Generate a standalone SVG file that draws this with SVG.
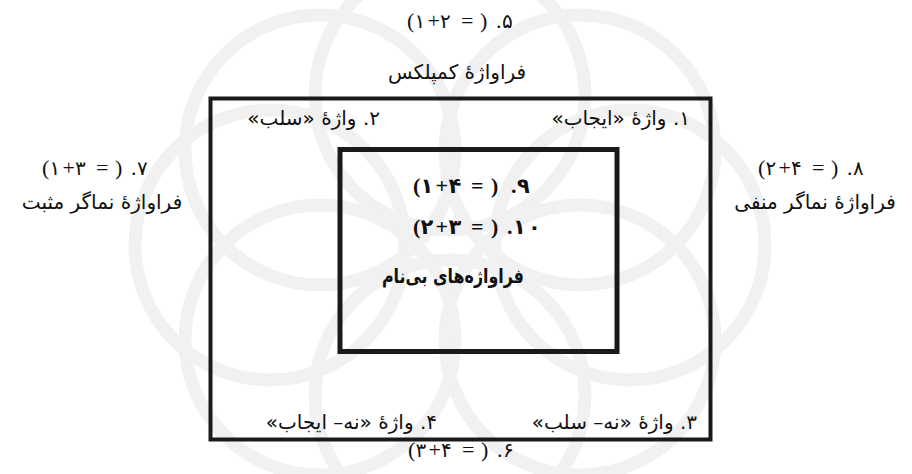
<svg xmlns="http://www.w3.org/2000/svg" width="912" height="474" viewBox="0 0 912 474">
<style>
.t{font-family:"DejaVu Sans",serif;font-size:20px;fill:#111;}
.m text{font-family:"Liberation Serif","DejaVu Sans",serif;font-size:22px;fill:#111;direction:ltr;}
.m text.d{font-family:"DejaVu Sans",serif;font-size:20px;}
.b text{font-weight:bold;}
.b text.d{font-size:21px;}
.box{fill:none;stroke:#1a1a1a;}
.wm{fill:none;stroke:#f1f1f1;stroke-width:13;}
</style>
<rect width="912" height="474" fill="#fff"/>
<g id="watermark">
<circle class="wm" cx="450" cy="95" r="135"/>
<circle class="wm" cx="580" cy="150" r="135"/>
<circle class="wm" cx="630" cy="245" r="135"/>
<circle class="wm" cx="580" cy="340" r="135"/>
<circle class="wm" cx="450" cy="395" r="135"/>
<circle class="wm" cx="320" cy="340" r="135"/>
<circle class="wm" cx="270" cy="245" r="135"/>
<circle class="wm" cx="320" cy="150" r="135"/>
</g>
<g id="outer">
<rect class="box" x="210.5" y="98.5" width="500" height="341" stroke-width="4"/>
</g>
<g id="inner">
<rect class="box" x="340" y="149.5" width="277" height="202" stroke-width="5"/>
</g>
<g id="top-labels">
<g class="m"><text x="407" y="28">(</text><text class="d" x="414.5" y="28">۱</text><text x="427.5" y="28">+</text><text class="d" x="440" y="28">۲</text><text x="461" y="28">=</text><text x="480" y="28">)</text><text x="496" y="28">.</text><text class="d" x="502" y="28">۵</text></g>
<text class="t" x="457" y="79" text-anchor="middle" direction="rtl">فراواژهٔ کمپلکس</text>
</g>
<g id="word1"><text class="t" x="690" y="125" text-anchor="start" direction="rtl">۱. واژهٔ «ایجاب»</text></g>
<g id="word2"><text class="t" x="380" y="125" text-anchor="start" direction="rtl">۲. واژهٔ «سلب»</text></g>
<g id="word3"><text class="t" x="697" y="429" text-anchor="start" direction="rtl">۳. واژهٔ «نه– سلب»</text></g>
<g id="word4"><text class="t" x="437" y="429" text-anchor="start" direction="rtl">۴. واژهٔ «نه– ایجاب»</text></g>
<g id="left-labels">
<g class="m"><text x="42" y="175">(</text><text class="d" x="49.5" y="175">۱</text><text x="62.5" y="175">+</text><text class="d" x="75" y="175">۳</text><text x="96" y="175">=</text><text x="115" y="175">)</text><text x="131" y="175">.</text><text class="d" x="137" y="175">۷</text></g>
<text class="t" x="102" y="209" text-anchor="middle" direction="rtl">فراواژهٔ نماگر مثبت</text>
</g>
<g id="right-labels">
<g class="m"><text x="758" y="175">(</text><text class="d" x="765.5" y="175">۲</text><text x="778.5" y="175">+</text><text class="d" x="791" y="175">۴</text><text x="812" y="175">=</text><text x="831" y="175">)</text><text x="847" y="175">.</text><text class="d" x="853" y="175">۸</text></g>
<text class="t" x="815" y="209" text-anchor="middle" direction="rtl">فراواژهٔ نماگر منفی</text>
</g>
<g id="inner-labels">
<g class="m b"><text x="413" y="193">(</text><text class="d" x="420.5" y="193">۱</text><text x="435.5" y="193">+</text><text class="d" x="448.5" y="193">۴</text><text x="471" y="193">=</text><text x="491" y="193">)</text><text x="511" y="193">.</text><text class="d" x="517" y="193">۹</text></g>
<g class="m b"><text x="413" y="234">(</text><text class="d" x="420.5" y="234">۲</text><text x="435.5" y="234">+</text><text class="d" x="448.5" y="234">۳</text><text x="471" y="234">=</text><text x="491" y="234">)</text><text x="507" y="234">.</text><text class="d" x="513" y="234">۱</text><text class="d" x="528" y="234">۰</text></g>
<text class="t" x="453" y="283" text-anchor="middle" direction="rtl" font-weight="bold" textLength="142" lengthAdjust="spacingAndGlyphs">فراواژه‌های بی‌نام</text>
</g>
<g id="bottom-label">
<g class="m"><text x="408" y="457">(</text><text class="d" x="415.5" y="457">۳</text><text x="428.5" y="457">+</text><text class="d" x="441" y="457">۴</text><text x="462" y="457">=</text><text x="481" y="457">)</text><text x="497" y="457">.</text><text class="d" x="503" y="457">۶</text></g>
</g>
<g id="connectors"></g>
</svg>
